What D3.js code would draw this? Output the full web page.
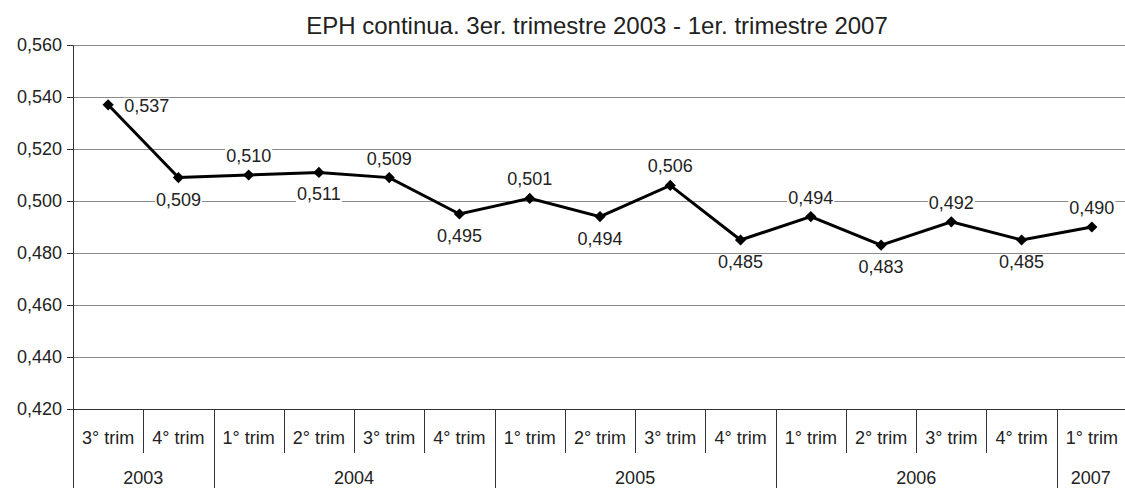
<!DOCTYPE html>
<html><head><meta charset="utf-8">
<script src="https://cdn.jsdelivr.net/npm/d3@7"></script>
<style>body{margin:0;background:#fff}svg{display:block;font-family:"Liberation Sans",Arial,sans-serif}</style>
</head><body><svg id="c" width="1125" height="488"></svg>
<script>
const quarters = ["3° trim","4° trim","1° trim","2° trim","3° trim","4° trim","1° trim","2° trim","3° trim","4° trim","1° trim","2° trim","3° trim","4° trim","1° trim"];
const years = ["2003","2003","2004","2004","2004","2004","2005","2005","2005","2005","2006","2006","2006","2006","2007"];
const values = [0.537,0.509,0.510,0.511,0.509,0.495,0.501,0.494,0.506,0.485,0.494,0.483,0.492,0.485,0.490];
const labelPos = ["right","below","above","below","above","below","above","below","above","below","above","below","above","below","above"];
const yTicks = [0.42,0.44,0.46,0.48,0.50,0.52,0.54,0.56];
const title = "EPH continua. 3er. trimestre 2003 - 1er. trimestre 2007";

const svg = d3.select("#c");
const L=73, R=1127, T=45, B=409;
const x = d3.scaleBand().domain(d3.range(values.length)).range([L,R]);
const y = d3.scaleLinear().domain([0.42,0.56]).range([B,T]);
const fmt = v => d3.format(".3f")(v).replace(".",",");

svg.append("text").attr("x",597).attr("y",34).attr("text-anchor","middle")
  .attr("font-size",24).attr("fill","#222").text(title);

// gridlines
svg.append("g").selectAll("line").data(yTicks.slice(1)).join("line")
  .attr("x1",L).attr("x2",1125).attr("y1",d=>Math.round(y(d))+0.5).attr("y2",d=>Math.round(y(d))+0.5)
  .attr("stroke","#8a8a8a").attr("stroke-width",1);

// y axis
const ya = svg.append("g").attr("transform",`translate(${L},0)`)
  .call(d3.axisLeft(y).tickValues(yTicks).tickFormat(fmt).tickSize(6).tickPadding(5));
ya.select(".domain").attr("stroke","#333");
ya.selectAll(".tick line").attr("stroke","#333");
ya.selectAll(".tick text").attr("font-size",18).attr("fill","#222").attr("font-family","Liberation Sans, Arial, sans-serif");

// x axis baseline
svg.append("line").attr("x1",L).attr("x2",1125).attr("y1",B+0.5).attr("y2",B+0.5).attr("stroke","#333");

// quarter separators
const bw = x.bandwidth();
svg.append("g").selectAll("line").data(d3.range(1,values.length)).join("line")
  .attr("x1",i=>Math.round(x(i))+0.5).attr("x2",i=>Math.round(x(i))+0.5)
  .attr("y1",B).attr("y2",i=> years[i]!==years[i-1] ? 488 : 453)
  .attr("stroke","#333");
svg.append("line").attr("x1",L+0.5).attr("x2",L+0.5).attr("y1",B).attr("y2",488).attr("stroke","#333");

svg.append("g").selectAll("text").data(quarters).join("text")
  .attr("x",(d,i)=>x(i)+bw/2).attr("y",444).attr("text-anchor","middle")
  .attr("font-size",18).attr("fill","#222").text(d=>d);

// year groups
const groups = [];
years.forEach((yr,i)=>{ const g=groups[groups.length-1]; if(g&&g.year===yr) g.end=i; else groups.push({year:yr,start:i,end:i}); });
svg.append("g").selectAll("text").data(groups).join("text")
  .attr("x",g=>(x(g.start)+Math.min(x(g.end)+bw,1125))/2).attr("y",484).attr("text-anchor","middle")
  .attr("font-size",18).attr("fill","#222").text(g=>g.year);

// line
const line = d3.line().x((d,i)=>x(i)+bw/2).y(d=>y(d));
svg.append("path").datum(values).attr("d",line).attr("fill","none")
  .attr("stroke","#000").attr("stroke-width",3).attr("stroke-linejoin","miter");

svg.append("g").selectAll("path").data(values).join("path")
  .attr("d",d3.symbol(d3.symbolDiamond2,80)())
  .attr("transform",(d,i)=>`translate(${x(i)+bw/2},${y(d)})`)
  .attr("fill","#000");

// labels with white background
const lg = svg.append("g");
values.forEach((v,i)=>{
  const cx = x(i)+bw/2, cy = y(v);
  let tx=cx, ty, anchor="middle";
  if(labelPos[i]==="right"){ tx=cx+16; ty=cy+7; anchor="start"; }
  else if(labelPos[i]==="above"){ ty=cy-13; }
  else { ty=cy+28; }
  const g = lg.append("g");
  const t = g.append("text").attr("x",tx).attr("y",ty).attr("text-anchor",anchor)
    .attr("font-size",18).attr("fill","#222").text(fmt(v));
  const bb = t.node().getBBox();
  g.insert("rect","text").attr("x",bb.x-1).attr("y",bb.y+2).attr("width",bb.width+2).attr("height",bb.height-3).attr("fill","#fff");
});
</script></body></html>
